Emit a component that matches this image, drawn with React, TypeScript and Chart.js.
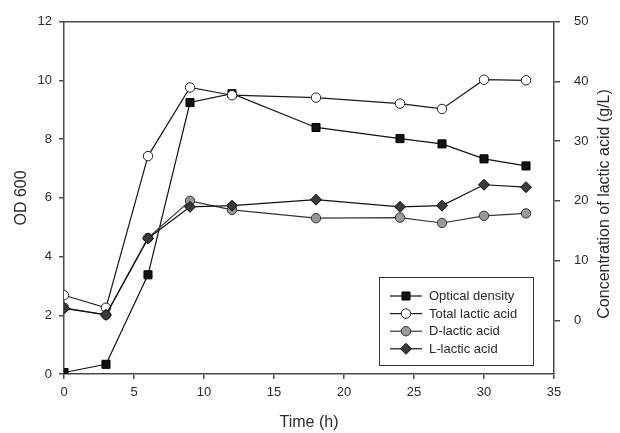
import React, { useEffect, useRef } from 'react';
import { Chart, registerables } from 'chart.js';

Chart.register(...registerables);

const timeH = [0, 3, 6, 9, 12, 18, 24, 27, 30, 33];
const opticalDensity = [0.05, 0.33, 3.38, 9.25, 9.55, 8.4, 8.02, 7.84, 7.33, 7.09];
const totalLactic = [4.2, 2.1, 27.5, 39.0, 37.7, 37.3, 36.3, 35.4, 40.3, 40.2];
const dLactic = [2.1, 0.9, 13.8, 20.0, 18.5, 17.1, 17.2, 16.3, 17.5, 17.9];
const lLactic = [2.0, 0.9, 13.7, 19.0, 19.2, 20.2, 19.0, 19.2, 22.7, 22.3];

const seriesLabels = ['Optical density', 'Total lactic acid', 'D-lactic acid', 'L-lactic acid'];
const xTitle = 'Time (h)';
const yTitle = 'OD 600';
const y2Title = 'Concentration of lactic acid (g/L)';

const FONT = "'Liberation Sans', Arial, Helvetica, sans-serif";
const AXIS_COLOR = '#4a4a4a';
const TEXT_COLOR = '#2a2a2a';

const pts = (ys: number[]) => timeH.map((x, i) => ({ x, y: ys[i] }));

function drawMarker(ctx: CanvasRenderingContext2D, style: string, x: number, y: number, r: number, fill: string, stroke: string) {
  ctx.save();
  ctx.fillStyle = fill;
  ctx.strokeStyle = stroke;
  ctx.lineWidth = 1;
  ctx.beginPath();
  if (style === 'rect') {
    const s = Math.SQRT1_2 * r;
    ctx.rect(x - s, y - s, 2 * s, 2 * s);
  } else if (style === 'rectRot') {
    ctx.moveTo(x, y - r);
    ctx.lineTo(x + r, y);
    ctx.lineTo(x, y + r);
    ctx.lineTo(x - r, y);
    ctx.closePath();
  } else {
    ctx.arc(x, y, r, 0, Math.PI * 2);
  }
  ctx.fill();
  ctx.stroke();
  ctx.restore();
}

const framePlugin = {
  id: 'frameAndExtras',
  beforeDatasetsDraw(chart: any) {
    const { ctx, chartArea } = chart;
    ctx.save();
    ctx.strokeStyle = AXIS_COLOR;
    ctx.lineWidth = 1.5;
    ctx.beginPath();
    ctx.moveTo(chartArea.left, chartArea.top);
    ctx.lineTo(chartArea.right, chartArea.top);
    ctx.stroke();
    ctx.restore();
  },
  afterDraw(chart: any) {
    const { ctx } = chart;
    // right axis title, reading bottom-to-top
    ctx.save();
    ctx.fillStyle = TEXT_COLOR;
    ctx.font = `16px ${FONT}`;
    ctx.translate(605, 204);
    ctx.rotate(-Math.PI / 2);
    ctx.textAlign = 'center';
    ctx.textBaseline = 'middle';
    ctx.fillText(y2Title, 0, 0);
    ctx.restore();

    // legend box
    ctx.save();
    ctx.fillStyle = '#ffffff';
    ctx.fillRect(379.5, 277.5, 154, 88);
    ctx.strokeStyle = '#333';
    ctx.lineWidth = 1;
    ctx.strokeRect(379.5, 277.5, 154, 88);
    chart.data.datasets.forEach((ds: any, i: number) => {
      const y = 296 + i * 17.6;
      ctx.strokeStyle = ds.borderColor;
      ctx.lineWidth = 1.2;
      ctx.beginPath();
      ctx.moveTo(390, y);
      ctx.lineTo(422, y);
      ctx.stroke();
      drawMarker(ctx, ds.pointStyle, 406, y, ds.pointRadius, ds.pointBackgroundColor, ds.pointBorderColor);
      ctx.fillStyle = TEXT_COLOR;
      ctx.font = `13px ${FONT}`;
      ctx.textAlign = 'left';
      ctx.textBaseline = 'middle';
      ctx.fillText(ds.label, 429, y + 0.5);
    });
    ctx.restore();
  },
};

export default function App() {
  const ref = useRef<HTMLCanvasElement>(null);

  useEffect(() => {
    if (!ref.current) return;
    Chart.defaults.font.family = FONT;
    const tickFont = { family: FONT, size: 13 };
    const titleFont = { family: FONT, size: 16 };
    const chart = new Chart(ref.current, {
      type: 'scatter',
      data: {
        datasets: [
          {
            label: seriesLabels[0],
            data: pts(opticalDensity),
            yAxisID: 'y',
            showLine: true,
            borderColor: '#111',
            borderWidth: 1.2,
            pointStyle: 'rect',
            pointRadius: 5.7,
            pointBackgroundColor: '#111',
            pointBorderColor: '#000',
            pointBorderWidth: 1,
            order: 4,
          },
          {
            label: seriesLabels[1],
            data: pts(totalLactic),
            yAxisID: 'y2',
            showLine: true,
            borderColor: '#1a1a1a',
            borderWidth: 1.2,
            pointStyle: 'circle',
            pointRadius: 4.7,
            pointBackgroundColor: '#ffffff',
            pointBorderColor: '#222',
            pointBorderWidth: 1,
            order: 3,
          },
          {
            label: seriesLabels[2],
            data: pts(dLactic),
            yAxisID: 'y2',
            showLine: true,
            borderColor: '#333',
            borderWidth: 1.2,
            pointStyle: 'circle',
            pointRadius: 4.7,
            pointBackgroundColor: '#9a9a9a',
            pointBorderColor: '#333',
            pointBorderWidth: 1,
            order: 2,
          },
          {
            label: seriesLabels[3],
            data: pts(lLactic),
            yAxisID: 'y2',
            showLine: true,
            borderColor: '#111',
            borderWidth: 1.2,
            pointStyle: 'rectRot',
            pointRadius: 5.5,
            pointBackgroundColor: '#3a3a3a',
            pointBorderColor: '#111',
            pointBorderWidth: 1,
            order: 1,
          },
        ],
      },
      options: {
        responsive: false,
        animation: false,
        layout: { padding: { top: 15, left: 0, right: 0, bottom: 0 } },
        plugins: {
          legend: { display: false },
          tooltip: { enabled: false },
        },
        scales: {
          x: {
            type: 'linear',
            position: 'bottom',
            min: 0,
            max: 35,
            ticks: { stepSize: 5, font: tickFont, color: TEXT_COLOR, padding: 6, maxRotation: 0 },
            grid: { display: true, drawOnChartArea: false, drawTicks: true, tickLength: 5, color: AXIS_COLOR, lineWidth: 1.5 },
            border: { display: true, color: AXIS_COLOR, width: 1.5 },
            title: { display: true, text: xTitle, font: titleFont, color: TEXT_COLOR, padding: { top: 0, bottom: 1 } },
            afterFit: (s: any) => { s.height = 59; },
          },
          y: {
            type: 'linear',
            position: 'left',
            min: 0,
            max: 12,
            ticks: { stepSize: 2, font: tickFont, color: TEXT_COLOR, padding: 7 },
            grid: { display: true, drawOnChartArea: false, drawTicks: true, tickLength: 5, color: AXIS_COLOR, lineWidth: 1.5 },
            border: { display: true, color: AXIS_COLOR, width: 1.5 },
            title: { display: true, text: yTitle, font: titleFont, color: TEXT_COLOR, padding: { top: 12, bottom: 0 } },
            afterFit: (s: any) => { s.width = 64; },
          },
          y2: {
            type: 'linear',
            position: 'right',
            min: -9,
            max: 50,
            ticks: { stepSize: 10, font: tickFont, color: TEXT_COLOR, padding: 14 },
            afterBuildTicks: (axis: any) => {
              axis.ticks = axis.ticks.filter((t: any) => t.value >= 0);
            },
            grid: { display: true, drawOnChartArea: false, drawTicks: true, tickLength: 6, color: AXIS_COLOR, lineWidth: 1.5 },
            border: { display: true, color: AXIS_COLOR, width: 1.5 },
            title: { display: false },
            afterFit: (s: any) => { s.width = 66; },
          },
        },
      },
      plugins: [framePlugin],
    });
    return () => chart.destroy();
  }, []);

  return (
    <div style={{ position: 'absolute', left: 0, top: 0, width: 620, height: 433, background: '#fff' }}>
      <canvas ref={ref} width={620} height={433} style={{ width: 620, height: 433, display: 'block' }} />
    </div>
  );
}
